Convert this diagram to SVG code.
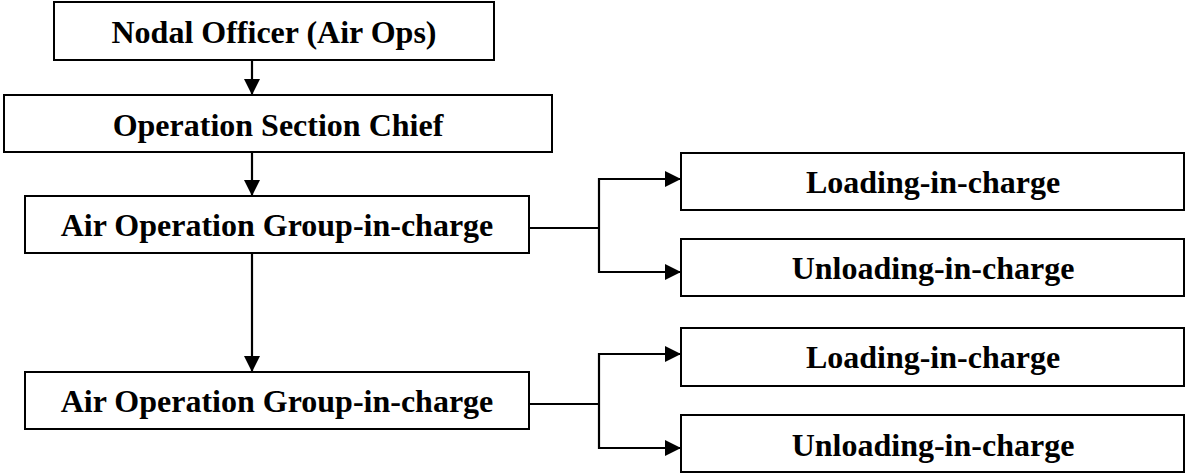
<svg xmlns="http://www.w3.org/2000/svg" width="1186" height="474" viewBox="0 0 1186 474">
  <style>
    .box { fill: #ffffff; stroke: #000000; stroke-width: 2; }
    .label { font-family: "Liberation Serif", "Times New Roman", serif; font-weight: bold; font-size: 32px; fill: #000000; text-anchor: middle; }
    .link { fill: none; stroke: #000000; stroke-width: 2.2; }
  </style>
  <defs>
    <!-- solid triangular head, sized in user units -->
    <marker id="arrow" markerUnits="userSpaceOnUse" markerWidth="17" markerHeight="17" viewBox="0 0 17 17" refX="16" refY="8" orient="auto">
      <path d="M0,0 L16,8 L0,16 Z" fill="#000000"/>
    </marker>
  </defs>
  <rect width="1186" height="474" fill="#ffffff"/>

  <g id="connectors">
    <!-- vertical chain -->
    <path class="link" d="M252,60 L252,95" marker-end="url(#arrow)"/>
    <path class="link" d="M252,152 L252,196" marker-end="url(#arrow)"/>
    <path class="link" d="M252,253 L252,372" marker-end="url(#arrow)"/>
    <!-- first group branch -->
    <path class="link" d="M529,228 L599,228"/>
    <path class="link" d="M599,178 L599,273"/>
    <path class="link" d="M598,179 L681,179" marker-end="url(#arrow)"/>
    <path class="link" d="M598,272 L681,272" marker-end="url(#arrow)"/>
    <!-- second group branch -->
    <path class="link" d="M529,404 L599,404"/>
    <path class="link" d="M599,353 L599,449"/>
    <path class="link" d="M598,354 L681,354" marker-end="url(#arrow)"/>
    <path class="link" d="M598,448 L681,448" marker-end="url(#arrow)"/>
  </g>

  <g id="nodal-officer">
    <rect class="box" x="54" y="2" width="440" height="58"/>
    <text class="label" x="274" y="43">Nodal Officer (Air Ops)</text>
  </g>
  <g id="operation-section-chief">
    <rect class="box" x="4" y="95" width="548" height="57"/>
    <text class="label" x="278" y="136">Operation Section Chief</text>
  </g>
  <g id="air-op-group-1">
    <rect class="box" x="25" y="196" width="504" height="57"/>
    <text class="label" x="277" y="236">Air Operation Group-in-charge</text>
  </g>
  <g id="loading-1">
    <rect class="box" x="681" y="153" width="503" height="57"/>
    <text class="label" x="933" y="193">Loading-in-charge</text>
  </g>
  <g id="unloading-1">
    <rect class="box" x="681" y="239" width="503" height="57"/>
    <text class="label" x="933" y="279">Unloading-in-charge</text>
  </g>
  <g id="air-op-group-2">
    <rect class="box" x="25" y="372" width="504" height="57"/>
    <text class="label" x="277" y="412">Air Operation Group-in-charge</text>
  </g>
  <g id="loading-2">
    <rect class="box" x="681" y="328" width="503" height="58"/>
    <text class="label" x="933" y="368">Loading-in-charge</text>
  </g>
  <g id="unloading-2">
    <rect class="box" x="681" y="415" width="503" height="57"/>
    <text class="label" x="933" y="456">Unloading-in-charge</text>
  </g>
</svg>
